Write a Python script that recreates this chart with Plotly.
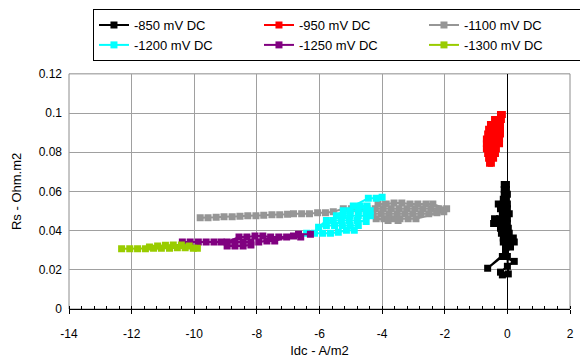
import plotly.graph_objects as go

# Idc (A/m2) vs Rs (Ohm.m2) at each polarisation potential
idc_850 = [-0.10, -0.03, -0.03, -0.10, -0.10, 0.00, -0.03, -0.13, -0.29, -0.13, 0.00,
           0.00, -0.10, -0.22, -0.16, -0.03, 0.06, 0.00, -0.10, -0.25, -0.41,
           -0.44, -0.25, -0.13, 0.00, 0.03, -0.10, -0.22, -0.19, -0.06, 0.06,
           0.19, 0.00, -0.13, -0.13, 0.03, 0.22, 0.10, -0.03, -0.06, -0.63,
           -0.16, 0.22, 0.00, -0.22, -0.16, 0.03, 0.00, -0.06]
rs_850 = [0.0635, 0.0635, 0.0610, 0.0610, 0.0585, 0.0585, 0.0560, 0.0560, 0.0536, 0.0536, 0.0536,
          0.0511, 0.0511, 0.0511, 0.0486, 0.0486, 0.0486, 0.0461, 0.0461, 0.0461, 0.0461,
          0.0436, 0.0436, 0.0436, 0.0436, 0.0412, 0.0412, 0.0412, 0.0387, 0.0387, 0.0387,
          0.0362, 0.0362, 0.0362, 0.0342, 0.0342, 0.0342, 0.0317, 0.0317, 0.0288, 0.0208,
          0.0268, 0.0243, 0.0218, 0.0188, 0.0174, 0.0179, 0.0268, 0.0317]

idc_950 = [-0.22, -0.16, -0.19, -0.25, -0.41, -0.54, -0.38, -0.22, -0.22, -0.29, -0.44,
           -0.60, -0.63, -0.48, -0.32, -0.22, -0.25, -0.35, -0.51, -0.67, -0.67,
           -0.51, -0.35, -0.25, -0.35, -0.51, -0.67, -0.63, -0.48, -0.38, -0.44,
           -0.60, -0.57, -0.51]
rs_950 = [0.0992, 0.0992, 0.0967, 0.0967, 0.0967, 0.0942, 0.0942, 0.0942, 0.0917, 0.0917, 0.0917,
          0.0917, 0.0893, 0.0893, 0.0893, 0.0893, 0.0868, 0.0868, 0.0868, 0.0868, 0.0843,
          0.0843, 0.0843, 0.0843, 0.0818, 0.0818, 0.0818, 0.0793, 0.0793, 0.0793, 0.0769,
          0.0769, 0.0744, 0.0744]

idc_1100 = [-9.81, -9.56, -9.30, -9.05, -8.79, -8.54, -8.29, -8.03, -7.78, -7.52, -7.27, -7.02,
            -6.83, -6.57, -6.32, -6.06, -5.81, -5.56,
            -5.24, -4.98, -4.73, -4.48, -4.22, -3.97, -3.71, -3.46, -3.21, -2.95, -2.70, -2.44,
            -2.19, -1.94,
            -2.38, -2.60, -2.86, -3.11, -3.37, -3.62, -3.87, -4.13,
            -4.29, -4.03, -3.78, -3.52, -3.27, -3.02, -2.76, -2.51, -2.25, -2.03,
            -2.92, -3.17, -3.43, -3.68, -3.94, -4.19, -3.81, -3.49]
rs_1100 = [0.0466, 0.0466, 0.0468, 0.0471, 0.0471, 0.0473, 0.0476, 0.0476, 0.0478, 0.0481, 0.0481, 0.0484,
           0.0486, 0.0486, 0.0486, 0.0491, 0.0491, 0.0496,
           0.0511, 0.0511, 0.0511, 0.0511, 0.0511, 0.0511, 0.0511, 0.0511, 0.0511, 0.0511, 0.0511, 0.0511,
           0.0511, 0.0511,
           0.0536, 0.0536, 0.0536, 0.0536, 0.0541, 0.0541, 0.0536, 0.0536,
           0.0486, 0.0486, 0.0486, 0.0486, 0.0486, 0.0486, 0.0486, 0.0486, 0.0491, 0.0496,
           0.0461, 0.0461, 0.0461, 0.0461, 0.0461, 0.0461, 0.0451, 0.0451]

idc_1200 = [-6.41, -6.16, -5.90, -5.65, -5.40, -5.14, -4.89,
            -4.76, -5.02, -5.27, -5.52, -5.78, -6.03,
            -5.78, -5.56, -5.30, -5.05, -4.79, -4.51,
            -4.38, -4.51, -4.76, -5.02, -5.24, -5.46,
            -5.24, -5.02, -4.76, -4.51, -4.38,
            -4.48, -4.70, -4.92,
            -4.44, -4.19, -4.00]
rs_1200 = [0.0387, 0.0387, 0.0387, 0.0387, 0.0392, 0.0402, 0.0402,
           0.0426, 0.0426, 0.0426, 0.0426, 0.0426, 0.0417,
           0.0451, 0.0451, 0.0451, 0.0451, 0.0451, 0.0446,
           0.0476, 0.0476, 0.0476, 0.0476, 0.0476, 0.0476,
           0.0501, 0.0501, 0.0501, 0.0501, 0.0501,
           0.0526, 0.0526, 0.0526,
           0.0565, 0.0565, 0.0570]

idc_1250 = [-10.38, -10.13, -9.87, -9.62, -9.37, -9.14,
            -8.95, -8.70, -8.44, -8.19, -8.19, -8.44, -8.70, -8.95,
            -8.57, -8.32, -8.06, -7.81, -7.56, -7.30, -7.05,
            -7.43, -7.68, -7.94,
            -6.83, -6.60, -6.67, -6.29]
rs_1250 = [0.0342, 0.0342, 0.0342, 0.0342, 0.0342, 0.0342,
           0.0322, 0.0322, 0.0322, 0.0327, 0.0342, 0.0342, 0.0342, 0.0342,
           0.0367, 0.0367, 0.0372, 0.0372, 0.0367, 0.0367, 0.0367,
           0.0347, 0.0347, 0.0342,
           0.0372, 0.0367, 0.0382, 0.0382]

idc_1300 = [-12.32, -12.06, -11.81, -11.56, -11.30, -11.05, -10.79, -10.54, -10.29, -10.03, -9.90,
            -10.16, -10.41, -10.67, -10.92, -11.17, -11.43]
rs_1300 = [0.0307, 0.0307, 0.0307, 0.0307, 0.0310, 0.0310, 0.0310, 0.0312, 0.0312, 0.0310, 0.0310,
           0.0322, 0.0327, 0.0327, 0.0325, 0.0322, 0.0317]

series = [
    ("-850 mV DC", idc_850, rs_850, "#000000"),
    ("-950 mV DC", idc_950, rs_950, "#ff0000"),
    ("-1100 mV DC", idc_1100, rs_1100, "#969696"),
    ("-1200 mV DC", idc_1200, rs_1200, "#00ffff"),
    ("-1250 mV DC", idc_1250, rs_1250, "#800080"),
    ("-1300 mV DC", idc_1300, rs_1300, "#99cc00"),
]

x_ticks = [-14, -12, -10, -8, -6, -4, -2, 0, 2]
x_tick_text = ["-14", "-12", "-10", "-8", "-6", "-4", "-2", "0", "2"]
y_ticks = [0, 0.02, 0.04, 0.06, 0.08, 0.1, 0.12]
y_tick_text = ["0", "0.02", "0.04", "0.06", "0.08", "0.1", "0.12"]

FONT = "Liberation Sans, Arial, sans-serif"
GRID = "#a0a0a0"

fig = go.Figure()
for name, xs, ys, color in series:
    fig.add_trace(go.Scatter(
        x=xs, y=ys, name=name, mode="lines+markers",
        line=dict(color=color, width=2),
        marker=dict(symbol="square", size=7, color=color),
    ))

fig.update_layout(
    width=580, height=362,
    margin=dict(l=69, r=6, t=70, b=50),
    paper_bgcolor="white", plot_bgcolor="white",
    font=dict(family=FONT, size=12, color="black"),
    showlegend=True,
    legend=dict(
        orientation="h", xref="container", yref="container",
        x=0.1603, y=0.975, xanchor="left", yanchor="top",
        bordercolor="black", borderwidth=1, bgcolor="white",
        font=dict(size=13), entrywidth=120, entrywidthmode="pixels",
        itemwidth=30,
    ),
    xaxis=dict(
        range=[-14, 2], tickvals=x_ticks, ticktext=x_tick_text,
        showgrid=True, gridcolor=GRID, gridwidth=1,
        zeroline=True, zerolinecolor="black", zerolinewidth=1,
        showline=True, linecolor="black", linewidth=1,
        ticks="outside", ticklen=4, tickcolor="black",
        minor=dict(dtick=0.4, ticks="inside", ticklen=3, tickcolor="black", showgrid=False),
        title=dict(text="Idc - A/m2", font=dict(size=13), standoff=5),
        tickfont=dict(size=12), ticklabelstandoff=10,
    ),
    yaxis=dict(
        range=[0, 0.12], tickvals=y_ticks, ticktext=y_tick_text,
        showgrid=True, gridcolor=GRID, gridwidth=1,
        zeroline=False, showline=False, ticks="",
        title=dict(text="Rs - Ohm.m2", font=dict(size=13), standoff=14),
        tickfont=dict(size=12), ticklabelstandoff=6,
    ),
    shapes=[dict(type="rect", xref="paper", yref="paper", x0=0, y0=0, x1=1, y1=1,
                 line=dict(color="#8c8c8c", width=1), layer="below")],
)

fig.write_html("out.html")
